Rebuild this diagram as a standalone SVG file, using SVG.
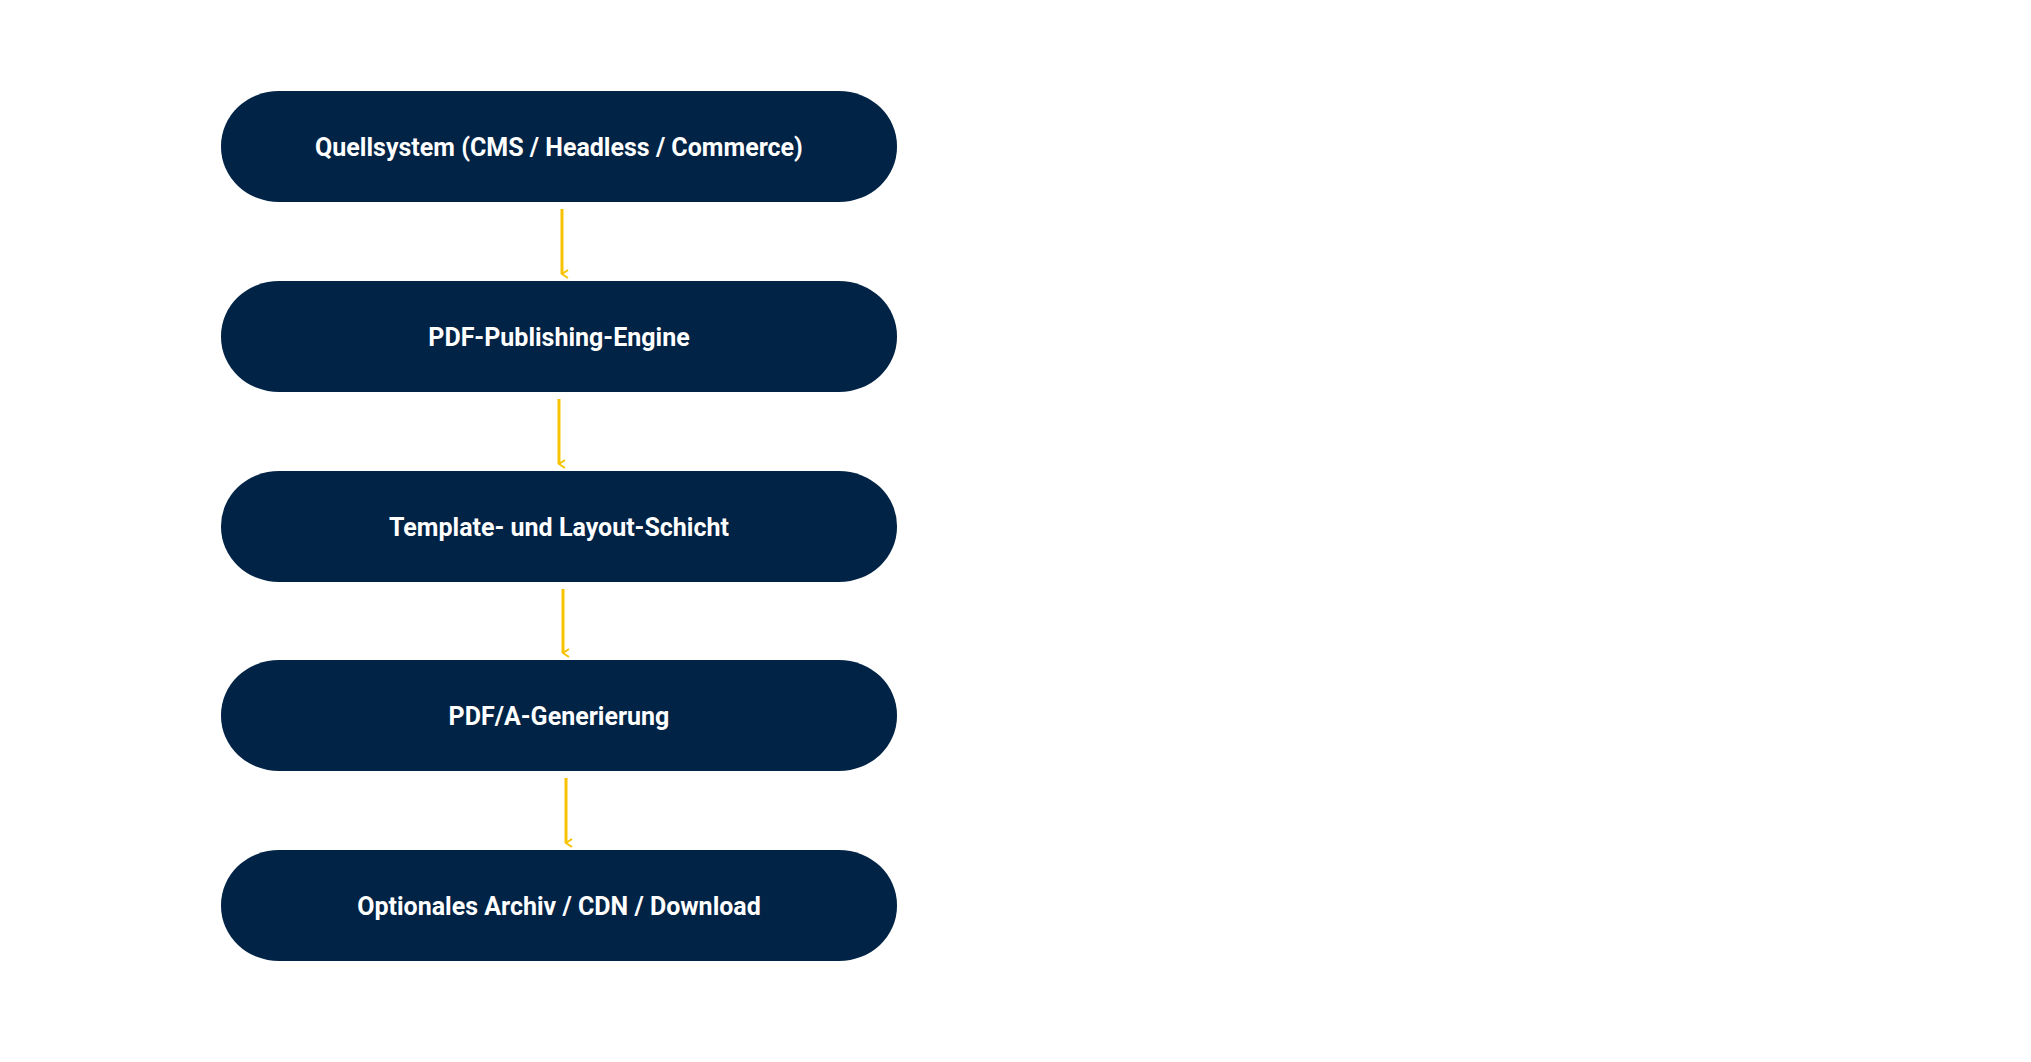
<svg xmlns="http://www.w3.org/2000/svg" width="2031" height="1062" viewBox="0 0 2031 1062">
<style>
.n{fill:#012346}
.t{fill:#fff;font-family:Roboto,"Liberation Sans",sans-serif;font-weight:700;font-size:25px;text-anchor:middle;dominant-baseline:central}
.c{stroke:#f7c300;stroke-width:3;fill:none;marker-end:url(#a)}
</style>
<defs><marker id="a" viewBox="0 0 10 10" refX="5" refY="9" markerWidth="10" markerHeight="10" markerUnits="userSpaceOnUse" orient="auto-start-reverse"><path d="M1 3 L5 9 L9 3" fill="none" stroke="#f7c300" stroke-width="2"/></marker></defs>
<rect width="2031" height="1062" fill="#fff"/>
<g id="n1"><rect class="n" x="221" y="91" width="676" height="111" rx="58" ry="55"/><text class="t" x="559" y="147">Quellsystem (CMS / Headless / Commerce)</text></g>
<g id="n2"><rect class="n" x="221" y="281" width="676" height="111" rx="58" ry="55"/><text class="t" x="559" y="337">PDF-Publishing-Engine</text></g>
<g id="n3"><rect class="n" x="221" y="471" width="676" height="111" rx="58" ry="55"/><text class="t" x="559" y="527">Template- und Layout-Schicht</text></g>
<g id="n4"><rect class="n" x="221" y="660" width="676" height="111" rx="58" ry="55"/><text class="t" x="559" y="716">PDF/A-Generierung</text></g>
<g id="n5"><rect class="n" x="221" y="850" width="676" height="111" rx="58" ry="55"/><text class="t" x="559" y="906">Optionales Archiv / CDN / Download</text></g>
<g id="connectors">
<path class="c" d="M562 209 V274"/>
<path class="c" d="M559 399 V464"/>
<path class="c" d="M563 589 V653"/>
<path class="c" d="M566 778 V843"/>
</g>
</svg>
